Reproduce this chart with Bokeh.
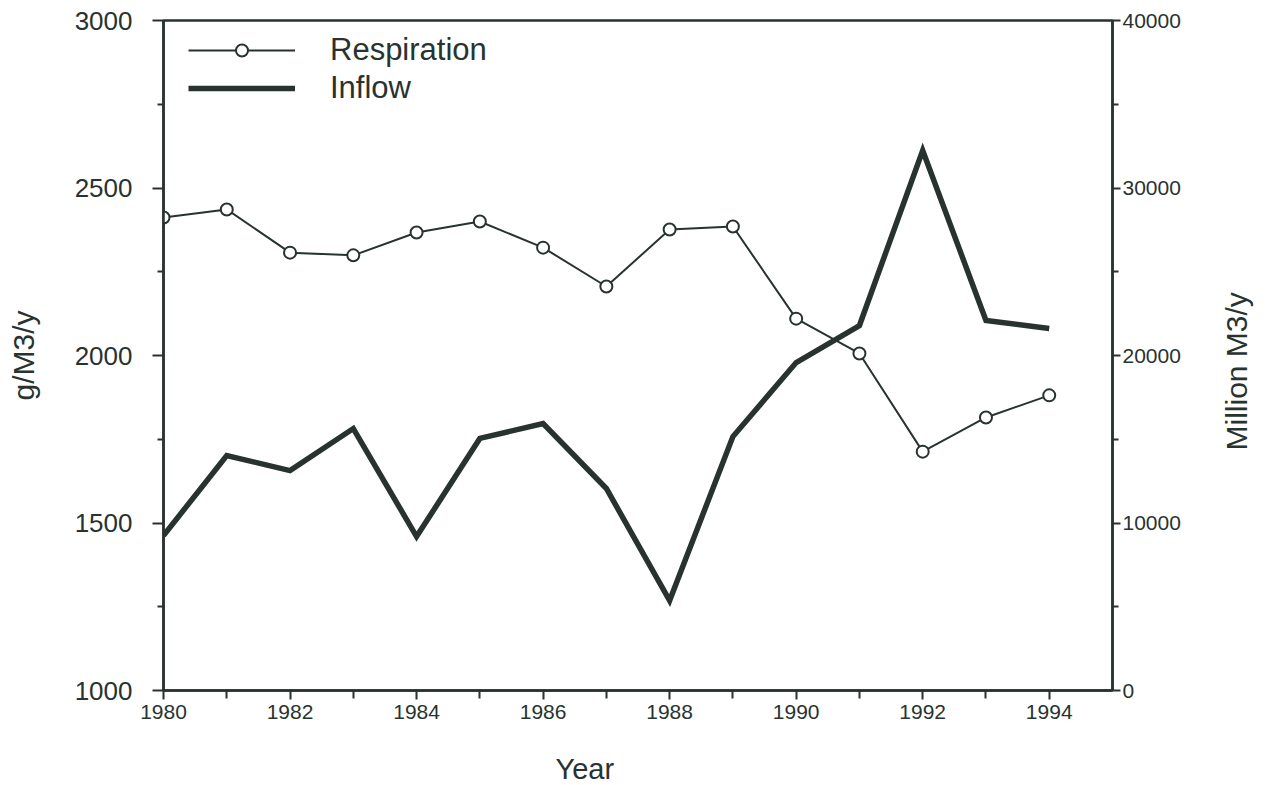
from bokeh.plotting import figure
from bokeh.layouts import row, column
from bokeh.models import Range1d, LinearAxis, FixedTicker, Legend, LegendItem, Title
from bokeh.embed import file_html
from bokeh.resources import INLINE

years = list(range(1980, 1995))
respiration = [2412, 2436, 2307, 2299, 2367, 2400, 2322, 2206, 2376, 2385, 2110, 2006, 1713, 1815, 1881]
inflow = [9250, 14030, 13130, 15640, 9190, 15050, 15940, 12060, 5370, 15160, 19580, 21790, 32240, 22090, 21610]

x_major = [1980, 1982, 1984, 1986, 1988, 1990, 1992, 1994]
x_minor = [1981, 1983, 1985, 1987, 1989, 1991, 1993]
left_major = [1000, 1500, 2000, 2500, 3000]
left_minor = [1250, 1750, 2250, 2750]
right_major = [0, 10000, 20000, 30000, 40000]
right_minor = [5000, 15000, 25000, 35000]

INK = "#28332f"
FONT = "Liberation Sans"


def style_axis(ax, label, label_size, tick_size, label_standoff, tick_standoff):
    ax.axis_label = label
    ax.axis_label_text_font = FONT
    ax.axis_label_text_font_size = label_size
    ax.axis_label_text_font_style = "normal"
    ax.axis_label_text_color = INK
    ax.axis_label_standoff = label_standoff
    ax.major_label_text_font = FONT
    ax.major_label_text_font_size = tick_size
    ax.major_label_text_color = INK
    ax.major_label_standoff = tick_standoff
    ax.major_tick_in = 0
    ax.major_tick_out = 9
    ax.minor_tick_in = 0
    ax.minor_tick_out = 6
    ax.axis_line_width = 2.5
    ax.axis_line_color = INK
    ax.major_tick_line_width = 2
    ax.minor_tick_line_width = 2
    ax.major_tick_line_color = INK
    ax.minor_tick_line_color = INK


def blank(fig):
    fig.axis.visible = False
    fig.grid.visible = False
    fig.outline_line_color = None


p = figure(width=1188, height=730, frame_width=949, frame_height=670,
           x_range=Range1d(1980, 1995), y_range=Range1d(1000, 3000),
           output_backend="svg", toolbar_location=None,
           min_border_left=163, min_border_right=76, min_border_top=20, min_border_bottom=40)
p.extra_y_ranges = {"inflow": Range1d(0, 40000)}
p.grid.visible = False
p.outline_line_color = INK
p.outline_line_width = 2.5

xa = p.xaxis[0]
xa.ticker = FixedTicker(ticks=x_major, minor_ticks=x_minor)
style_axis(xa, None, "28px", "21px", 24, 5)
xa.minor_tick_out = 8

ya = p.yaxis[0]
ya.ticker = FixedTicker(ticks=left_major, minor_ticks=left_minor)
style_axis(ya, "g/M3/y", "30px", "26px", 32, 20)
ya.major_tick_out = 11

ra = LinearAxis(y_range_name="inflow",
                ticker=FixedTicker(ticks=right_major, minor_ticks=right_minor))
style_axis(ra, None, "30px", "21px", 10, 2)
ra.major_tick_out = 8
p.add_layout(ra, "right")

r_inflow = p.line(years, inflow, y_range_name="inflow", line_color=INK, line_width=5.5,
                  line_join="miter")
r_resp_line = p.line(years, respiration, line_color=INK, line_width=2)
r_resp_pts = p.scatter(years, respiration, marker="circle", size=12, fill_color="white",
                       line_color=INK, line_width=2)

legend = Legend(items=[
    LegendItem(label="Respiration", renderers=[r_resp_line, r_resp_pts]),
    LegendItem(label="Inflow", renderers=[r_inflow]),
], location=(25, 583))
legend.border_line_color = None
legend.background_fill_alpha = 0
legend.glyph_width = 107
legend.glyph_height = 30
legend.label_height = 38
legend.label_standoff = 35
legend.spacing = 0
legend.margin = 0
legend.padding = 0
legend.label_text_font = FONT
legend.label_text_font_size = "31px"
legend.label_text_color = INK
legend.label_text_baseline = "middle"
p.add_layout(legend, "center")

# narrow companion figure carrying the right-hand axis title (reads bottom-to-top)
p2 = figure(width=71, height=730, frame_width=1, frame_height=670,
            x_range=Range1d(0, 1), y_range=Range1d(0, 1),
            output_backend="svg", toolbar_location=None,
            min_border_left=70, min_border_right=0, min_border_top=20, min_border_bottom=40)
blank(p2)
p2.add_layout(Title(text="Million M3/y", align="left", offset=240, vertical_align="middle",
                    standoff=10, text_font=FONT, text_font_size="30px",
                    text_font_style="normal", text_color=INK), "left")

# strip below carrying the x-axis title, which sits left of centre in the original
p3 = figure(width=1259, height=55, frame_width=949, frame_height=1,
            x_range=Range1d(0, 1), y_range=Range1d(0, 1),
            output_backend="svg", toolbar_location=None,
            min_border_left=163, min_border_right=147, min_border_top=54, min_border_bottom=0)
blank(p3)
p3.add_layout(Title(text="Year", align="left", offset=392, vertical_align="bottom",
                    standoff=0, text_font=FONT, text_font_size="29px",
                    text_font_style="normal", text_color=INK), "above")

layout = column(row(p, p2, spacing=0), p3, spacing=0)
open("out.html", "w").write(file_html(layout, INLINE))
